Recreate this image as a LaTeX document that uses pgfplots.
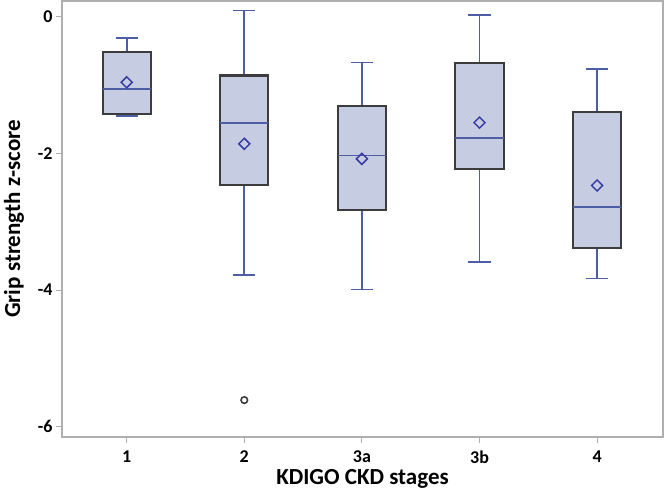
\documentclass[border=0pt]{standalone}
\usepackage{pgfplots}
\pgfplotsset{compat=1.18}
\usepackage{fontspec}
\setmainfont{Carlito}
\definecolor{boxfill}{RGB}{198,204,225}
\definecolor{boxedge}{RGB}{60,60,62}
\definecolor{wblue}{RGB}{78,94,165}
\definecolor{mblue}{RGB}{55,60,165}
\definecolor{framegrey}{RGB}{175,175,175}
\begin{document}
\begin{tikzpicture}
\begin{axis}[
  scale only axis, width=601pt, height=436pt,
  xmin=0.45, xmax=5.56, ymin=-6.15, ymax=0.23,
  xtick={1,2,3,4,5}, xticklabels={1,2,3a,3b,4},
  ytick={-6,-4,-2,0}, yticklabels={-6,-4,-2,0},
  axis line style={framegrey, line width=1.2pt},
  tick style={framegrey, line width=1pt},
  tick align=outside, major tick length=6pt,
  xtick pos=bottom, ytick pos=left,
  ticklabel style={font=\fontsize{18}{18}\selectfont\bfseries},
  xticklabel style={yshift=-4pt},
  xlabel={KDIGO CKD stages}, ylabel={Grip strength z-score},
  label style={font=\fontsize{23}{23}\selectfont\bfseries},
  xlabel style={at={(axis description cs:0.5,-0.096)}, anchor=center},
  ylabel style={at={(axis description cs:-0.08,0.5)}, anchor=center},
  unbounded coords=jump,
  whisk/.style={draw=wblue, line width=1.7pt, mark=none},
  bx/.style={draw=boxedge, fill=boxfill, line width=2.1pt, mark=none},
  med/.style={draw=wblue, line width=1.7pt, mark=none},
]
% ---- stage 1: lw=-1.45 q1=-1.42 med=-1.06 q3=-0.52 uw=-0.31
\addplot[whisk] coordinates {(0.905,-0.31) (1.095,-0.31) (1,nan) (1,-0.31) (1,-0.52) (1,nan) (1,-1.42) (1,-1.45) (1,nan) (0.905,-1.45) (1.095,-1.45)};
\addplot[bx] coordinates {(0.795,-1.42) (1.205,-1.42) (1.205,-0.52) (0.795,-0.52)} -- cycle;
\addplot[med] coordinates {(0.795,-1.06) (1.205,-1.06)};
% ---- stage 2: lw=-3.78 q1=-2.46 med=-1.56 q3=-0.86 uw=0.09
\addplot[whisk] coordinates {(1.905,0.09) (2.095,0.09) (2,nan) (2,0.09) (2,-0.86) (2,nan) (2,-2.46) (2,-3.78) (2,nan) (1.905,-3.78) (2.095,-3.78)};
\addplot[bx] coordinates {(1.795,-2.46) (2.205,-2.46) (2.205,-0.86) (1.795,-0.86)} -- cycle;
\addplot[med] coordinates {(1.795,-1.56) (2.205,-1.56)};
% ---- stage 3a: lw=-3.99 q1=-2.83 med=-2.03 q3=-1.30 uw=-0.67
\addplot[whisk] coordinates {(2.905,-0.67) (3.095,-0.67) (3,nan) (3,-0.67) (3,-1.30) (3,nan) (3,-2.83) (3,-3.99) (3,nan) (2.905,-3.99) (3.095,-3.99)};
\addplot[bx] coordinates {(2.795,-2.83) (3.205,-2.83) (3.205,-1.30) (2.795,-1.30)} -- cycle;
\addplot[med] coordinates {(2.795,-2.03) (3.205,-2.03)};
% ---- stage 3b: lw=-3.59 q1=-2.23 med=-1.77 q3=-0.68 uw=0.03
\addplot[whisk] coordinates {(3.905,0.03) (4.095,0.03) (4,nan) (4,0.03) (4,-0.68) (4,nan) (4,-2.23) (4,-3.59) (4,nan) (3.905,-3.59) (4.095,-3.59)};
\addplot[bx] coordinates {(3.795,-2.23) (4.205,-2.23) (4.205,-0.68) (3.795,-0.68)} -- cycle;
\addplot[med] coordinates {(3.795,-1.77) (4.205,-1.77)};
% ---- stage 4: lw=-3.83 q1=-3.38 med=-2.78 q3=-1.39 uw=-0.76
\addplot[whisk] coordinates {(4.905,-0.76) (5.095,-0.76) (5,nan) (5,-0.76) (5,-1.39) (5,nan) (5,-3.38) (5,-3.83) (5,nan) (4.905,-3.83) (5.095,-3.83)};
\addplot[bx] coordinates {(4.795,-3.38) (5.205,-3.38) (5.205,-1.39) (4.795,-1.39)} -- cycle;
\addplot[med] coordinates {(4.795,-2.78) (5.205,-2.78)};
% means
\addplot[only marks, mark=square, mark size=3.9pt, mark options={rotate=45, draw=mblue, line width=1.5pt}]
  coordinates {(1,-0.96) (2,-1.86) (3,-2.08) (4,-1.55) (5,-2.47)};
% outlier
\addplot[only marks, mark=o, mark size=3.3pt, mark options={draw=boxedge, line width=1.6pt}]
  coordinates {(2,-5.61)};
\end{axis}
\path ([shift={(-62pt,-60pt)}]current axis.south west) rectangle ([shift={(3pt,1pt)}]current axis.north east);
\end{tikzpicture}
\end{document}
